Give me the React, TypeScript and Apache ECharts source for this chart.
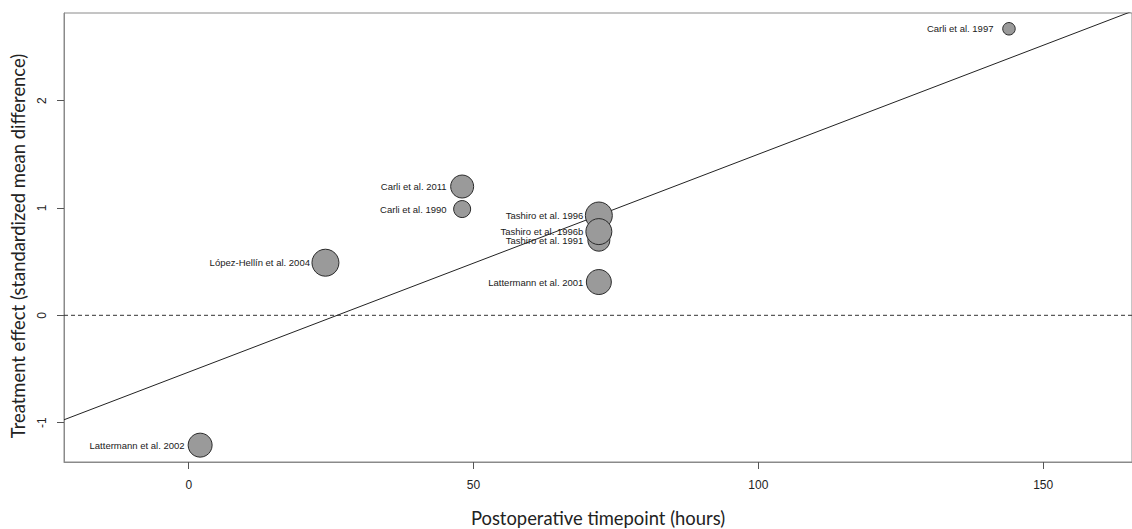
import React, { useEffect, useRef } from "react";
import * as echarts from "echarts";

const studies = [
  "Lattermann et al. 2002",
  "López-Hellín et al. 2004",
  "Carli et al. 2011",
  "Carli et al. 1990",
  "Tashiro et al. 1996",
  "Tashiro et al. 1991",
  "Lattermann et al. 2001",
  "Carli et al. 1997",
  "Tashiro et al. 1996b",
];
const timepoints = [2, 24, 48, 48, 72, 72, 72, 144, 72];
const effects = [-1.21, 0.49, 1.2, 0.99, 0.93, 0.7, 0.31, 2.67, 0.78];
const weights = [24, 27, 23, 17, 27, 22, 25, 12.5, 26];

const xTicks = [0, 50, 100, 150];
const yTicks = [-1, 0, 1, 2];

const intercept = -0.529;
const slope = 0.0203;

const X_MIN = -21.9;
const X_MAX = 165.6;
const Y_MIN = -1.367;
const Y_MAX = 2.817;

export default function App() {
  const ref = useRef<HTMLDivElement>(null);
  useEffect(() => {
    document.body.style.margin = "0";
    const chart = echarts.init(ref.current!, null, { renderer: "svg" });
    const axisColor = "#8a8a8a";
    const points = studies.map((s, i) => ({
      name: s,
      value: [timepoints[i], effects[i]],
      symbolSize: weights[i],
      label: { distance: Math.max(0, 15 - weights[i] / 2) },
    }));
    chart.setOption({
      animation: false,
      backgroundColor: "#ffffff",
      grid: {
        left: 64,
        top: 13,
        right: -3,
        bottom: 67,
        show: true,
        borderColor: axisColor,
        borderWidth: 1,
        backgroundColor: "transparent",
      },
      xAxis: {
        type: "value",
        min: X_MIN,
        max: X_MAX,
        splitLine: { show: false },
        axisLine: { show: true, onZero: false, lineStyle: { color: axisColor, width: 1 } },
        axisTick: {
          show: true,
          length: 7,
          customValues: xTicks,
          lineStyle: { color: "#555" },
        },
        axisLabel: {
          customValues: xTicks,
          margin: 17,
          color: "#222",
          fontFamily: "Liberation Sans, Arial",
          fontSize: 12,
        },
      },
      yAxis: {
        type: "value",
        min: Y_MIN,
        max: Y_MAX,
        splitLine: { show: false },
        axisLine: { show: true, onZero: false, lineStyle: { color: axisColor, width: 1 } },
        axisTick: {
          show: true,
          length: 7,
          customValues: yTicks,
          lineStyle: { color: "#555" },
        },
        axisLabel: {
          customValues: yTicks,
          rotate: 90,
          margin: 16,
          color: "#222",
          fontFamily: "Liberation Sans, Arial",
          fontSize: 12,
        },
      },
      series: [
        {
          type: "line",
          data: [
            [X_MIN, 0],
            [X_MAX, 0],
          ],
          symbol: "none",
          silent: true,
          lineStyle: { color: "#333", width: 1, type: [4, 3] },
          z: 1,
        },
        {
          type: "line",
          data: [
            [X_MIN, intercept + slope * X_MIN],
            [X_MAX, intercept + slope * X_MAX],
          ],
          symbol: "none",
          silent: true,
          clip: true,
          lineStyle: { color: "#222", width: 1 },
          z: 2,
        },
        {
          type: "scatter",
          data: points,
          z: 3,
          itemStyle: { color: "#9a9a9a", borderColor: "#2a2a2a", borderWidth: 1, opacity: 1 },
          label: {
            show: true,
            position: "left",
            formatter: (p: any) => p.name,
            color: "#1a1a1a",
            fontFamily: "Liberation Sans, Arial",
            fontSize: 9.5,
          },
          emphasis: { disabled: true },
        },
      ],
      graphic: [
        {
          type: "text",
          x: 598,
          y: 518,
          style: {
            text: "Postoperative timepoint (hours)",
            font: "18.4px Lato",
            fill: "#222",
            align: "center",
            verticalAlign: "middle",
          },
        },
        {
          type: "text",
          x: 18,
          y: 246,
          rotation: Math.PI / 2,
          style: {
            text: "Treatment effect (standardized mean difference)",
            font: "18.4px Lato",
            fill: "#222",
            align: "center",
            verticalAlign: "middle",
          },
        },
      ],
    });
    return () => chart.dispose();
  }, []);
  return <div ref={ref} style={{ width: 1132, height: 529 }} />;
}
